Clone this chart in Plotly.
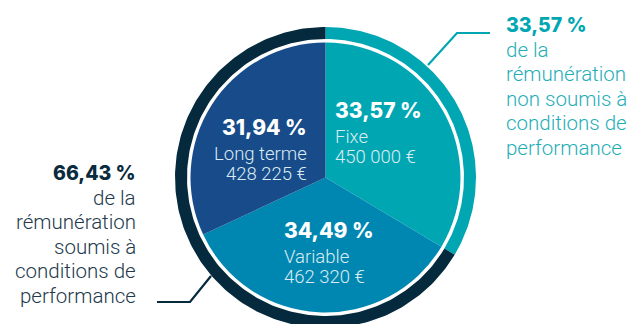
import numpy as np
import plotly.graph_objects as go

# Remuneration components (inner pie)
components = ["Fixe", "Variable", "Long terme"]
amounts = [450000, 462320, 428225]
shares_pct = [33.57, 34.49, 31.94]
slice_colors = ["#00A7B3", "#0087B1", "#174B8A"]

# Outer ring: share not subject / subject to performance conditions
ring_groups = ["non soumis à", "soumis à"]
ring_pct = [33.57, 66.43]
ring_colors = ["#00A7B3", "#05293D"]
ring_text_colors = ["#1FAEB8", "#22394B"]
ring_title_colors = ["#00A7B3", "#0A2A3E"]

W, H = 633, 324
CX, CY = 325.5, 146.5          # centre of the chart (y measured from bottom)
R_PIE = 135.0
R_IN, R_OUT = 138.5, 150.5

BOLD_FONT = "Inter"
LIGHT_FONT = "Roboto"


def fr_pct(v):
    return f"{v:.2f}".replace(".", ",") + " %"


def fr_eur(v):
    return f"{v:,.0f}".replace(",", " ") + " €"


fig = go.Figure()

# Inner pie
fig.add_trace(go.Pie(
    labels=components,
    values=amounts,
    sort=False,
    direction="clockwise",
    rotation=0,
    marker=dict(colors=slice_colors, line=dict(width=0)),
    textinfo="none",
    hoverinfo="label+value+percent",
    showlegend=False,
    domain=dict(x=[(CX - R_PIE) / W, (CX + R_PIE) / W],
                y=[(CY - R_PIE) / H, (CY + R_PIE) / H]),
))

# Outer ring, drawn as filled annular sectors starting at 12 o'clock, clockwise
start = 90.0
for name, pct, col in zip(ring_groups, ring_pct, ring_colors):
    sweep = pct / 100.0 * 360.0
    a = np.radians(np.linspace(start, start - sweep, 200))
    xs = np.concatenate([CX + R_OUT * np.cos(a), CX + R_IN * np.cos(a[::-1])])
    ys = np.concatenate([CY + R_OUT * np.sin(a), CY + R_IN * np.sin(a[::-1])])
    fig.add_trace(go.Scatter(
        x=xs, y=ys, fill="toself", fillcolor=col, mode="lines",
        line=dict(width=0, color=col), hoverinfo="skip", showlegend=False,
    ))
    start -= sweep

# Leader lines
fig.add_trace(go.Scatter(x=[428, 457, 490], y=[H - 65, H - 33, H - 33], mode="lines",
                         line=dict(color=ring_colors[0], width=2.2),
                         hoverinfo="skip", showlegend=False))
fig.add_trace(go.Scatter(x=[211, 190, 157], y=[H - 276, H - 302, H - 302], mode="lines",
                         line=dict(color=ring_colors[1], width=2.2),
                         hoverinfo="skip", showlegend=False))

ann = []


def add_text(x, y, text, size, color, bold, anchor):
    # annotations carry a little padding; nudge so the glyphs sit on x
    dx = -3 if anchor == "left" else 3
    ann.append(dict(x=x + dx, y=H - y, xref="x", yref="y", text=text, showarrow=False,
                    xanchor=anchor, yanchor="middle",
                    font=dict(family=BOLD_FONT if bold else LIGHT_FONT, size=size,
                              color=color, weight=800 if bold else 300)))


# Labels inside the pie slices
inner_pos = {
    "Fixe": (336, 110, "left"),
    "Variable": (285, 230, "left"),
    "Long terme": (306, 127, "right"),
}
for comp, amt, pct in zip(components, amounts, shares_pct):
    x, y, anc = inner_pos[comp]
    add_text(x, y, fr_pct(pct), 21, "white", True, anc)
    add_text(x, y + 27, comp, 18.5, "#DCEBF2", False, anc)
    add_text(x, y + 47, fr_eur(amt), 18.5, "#DCEBF2", False, anc)

# Ring annotations
blocks = [
    (507, 25, "left", ring_pct[0], ring_text_colors[0], ring_title_colors[0],
     ["de la", "rémunération", "non soumis à", "conditions de", "performance"]),
    (135, 173, "right", ring_pct[1], ring_text_colors[1], ring_title_colors[1],
     ["de la", "rémunération", "soumis à", "conditions de", "performance"]),
]
for x, y0, anc, pct, tcol, hcol, body in blocks:
    add_text(x, y0, fr_pct(pct), 19.5, hcol, True, anc)
    for i, line in enumerate(body):
        add_text(x, y0 + 24.6 * (i + 1), line, 20.5, tcol, False, anc)

fig.update_layout(
    width=W, height=H,
    margin=dict(l=0, r=0, t=0, b=0),
    paper_bgcolor="white", plot_bgcolor="white",
    xaxis=dict(range=[0, W], visible=False, fixedrange=True),
    yaxis=dict(range=[0, H], visible=False, fixedrange=True),
    annotations=ann,
    showlegend=False,
)

fig.write_html("out.html")
